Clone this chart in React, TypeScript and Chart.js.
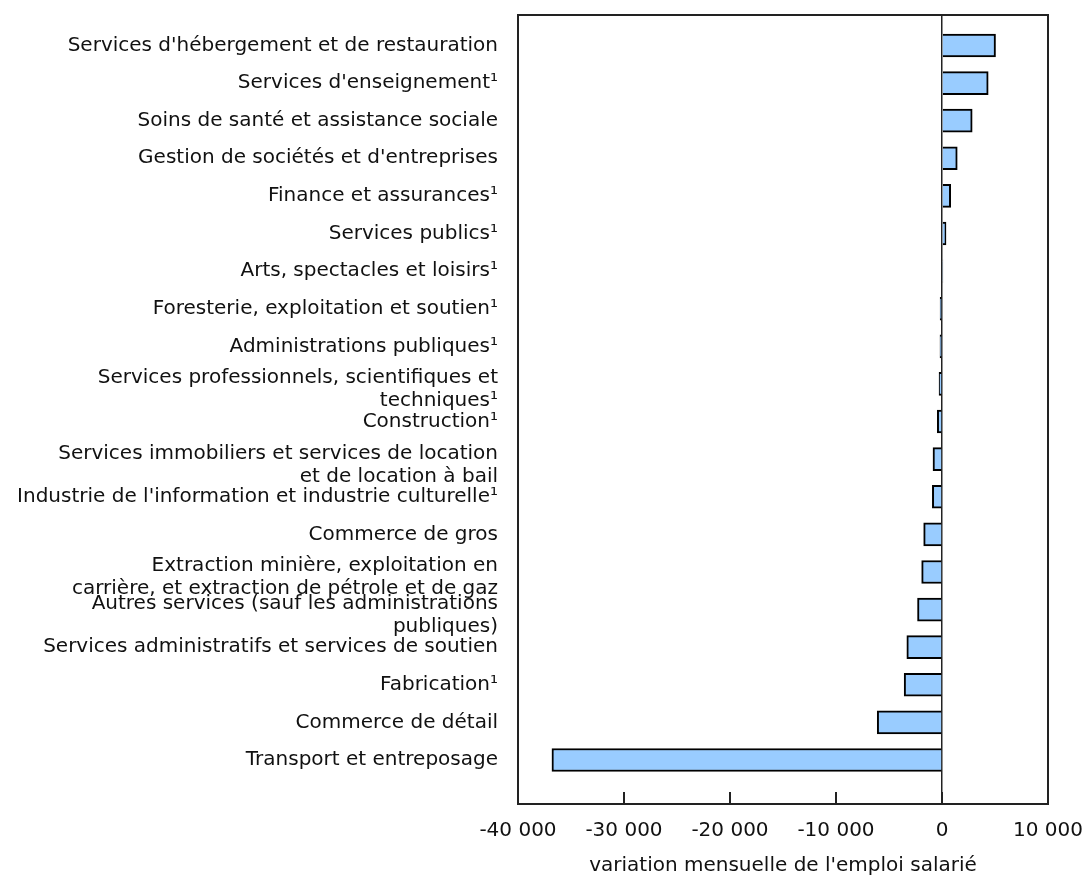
import React, { useEffect, useRef } from 'react';
import { Chart, registerables } from 'chart.js';

Chart.register(...registerables);

const categories: string[] = [
  "Services d'hébergement et de restauration",
  "Services d'enseignement¹",
  "Soins de santé et assistance sociale",
  "Gestion de sociétés et d'entreprises",
  "Finance et assurances¹",
  "Services publics¹",
  "Arts, spectacles et loisirs¹",
  "Foresterie, exploitation et soutien¹",
  "Administrations publiques¹",
  "Services professionnels, scientifiques et\ntechniques¹",
  "Construction¹",
  "Services immobiliers et services de location\net de location à bail",
  "Industrie de l'information et industrie culturelle¹",
  "Commerce de gros",
  "Extraction minière, exploitation en\ncarrière, et extraction de pétrole et de gaz",
  "Autres services (sauf les administrations\npubliques)",
  "Services administratifs et services de soutien",
  "Fabrication¹",
  "Commerce de détail",
  "Transport et entreposage",
];

const values: number[] = [
  5050, 4360, 2850, 1440, 820, 380, 80, -180, -190, -280,
  -440, -850, -910, -1730, -1920, -2310, -3320, -3570, -6110, -36800,
];

const xTickValues: number[] = [-40000, -30000, -20000, -10000, 0, 10000];
const xAxisTitle = "variation mensuelle de l'emploi salarié";

const FONT = "'DejaVu Sans', Verdana, sans-serif";

function fmt(v: number): string {
  const s = Math.abs(Math.round(v)).toString().replace(/\B(?=(\d{3})+(?!\d))/g, ' ');
  return (v < 0 ? '-' : '') + s;
}

const framePlugin = {
  id: 'frameAndTicks',
  afterDatasetsDraw(chart: any) {
    const { ctx, chartArea } = chart;
    const xs = chart.scales.x;
    ctx.save();
    ctx.strokeStyle = '#222';
    ctx.lineWidth = 2;
    ctx.strokeRect(chartArea.left, chartArea.top, chartArea.right - chartArea.left, chartArea.bottom - chartArea.top);
    xTickValues.forEach((v) => {
      const px = Math.round(xs.getPixelForValue(v));
      ctx.beginPath();
      ctx.moveTo(px, chartArea.bottom);
      ctx.lineTo(px, chartArea.bottom - 12);
      ctx.stroke();
    });
    ctx.restore();
  },
};

export default function App() {
  const ref = useRef<HTMLCanvasElement | null>(null);

  useEffect(() => {
    if (!ref.current) return;
    const chart = new Chart(ref.current, {
      type: 'bar',
      data: {
        datasets: [
          {
            data: values.map((v, i) => ({ x: v, y: i })),
            backgroundColor: '#99CCFF',
            borderColor: '#000',
            borderWidth: 2,
            barThickness: 23,
          },
        ],
      },
      options: {
        indexAxis: 'y',
        animation: false,
        responsive: true,
        maintainAspectRatio: false,
        layout: { padding: { top: 15, right: 37, bottom: 0, left: 0 } },
        plugins: {
          legend: { display: false },
          tooltip: { enabled: false },
        },
        scales: {
          x: {
            type: 'linear',
            min: -40000,
            max: 10000,
            offset: false,
            afterBuildTicks: (s: any) => {
              s.ticks = xTickValues.map((v) => ({ value: v }));
            },
            afterFit: (s: any) => {
              s.height = 74;
              s.paddingLeft = 0;
              s.paddingRight = 0;
            },
            ticks: {
              callback: (v: any) => fmt(Number(v)),
              color: '#111',
              font: { family: FONT, size: 20 },
              padding: 15,
              maxRotation: 0,
            },
            grid: {
              drawTicks: false,
              offset: false,
              color: (c: any) => (c.tick && c.tick.value === 0 ? '#222' : 'rgba(0,0,0,0)'),
              lineWidth: 1.5,
            },
            border: { display: false },
            title: {
              display: true,
              text: xAxisTitle,
              color: '#111',
              font: { family: FONT, size: 20 },
              padding: { top: 4, bottom: 0 },
            },
          },
          y: {
            type: 'linear',
            reverse: true,
            offset: false,
            min: -0.81,
            max: 20.17,
            afterBuildTicks: (s: any) => {
              s.ticks = categories.map((_, i) => ({ value: i }));
            },
            afterFit: (s: any) => {
              s.width = 518;
              s.paddingTop = 0;
              s.paddingBottom = 0;
            },
            ticks: {
              autoSkip: false,
              callback: (v: any) => {
                const i = Number(v);
                const lab = Number.isInteger(i) ? categories[i] : undefined;
                if (!lab) return '';
                if (!lab.includes('\n')) return lab;
                const [a, b] = lab.split('\n');
                return ['', a, '', b];
              },
              color: '#111',
              font: { family: FONT, size: 20, lineHeight: 0.575 },
              padding: 20,
            },
            grid: { display: false, drawTicks: false, offset: false },
            border: { display: false },
          },
        },
      },
      plugins: [framePlugin],
    } as any);
    return () => chart.destroy();
  }, []);

  return (
    <div style={{ position: 'fixed', left: 0, top: 0, width: 1085, height: 878 }}>
      <canvas ref={ref} />
    </div>
  );
}
